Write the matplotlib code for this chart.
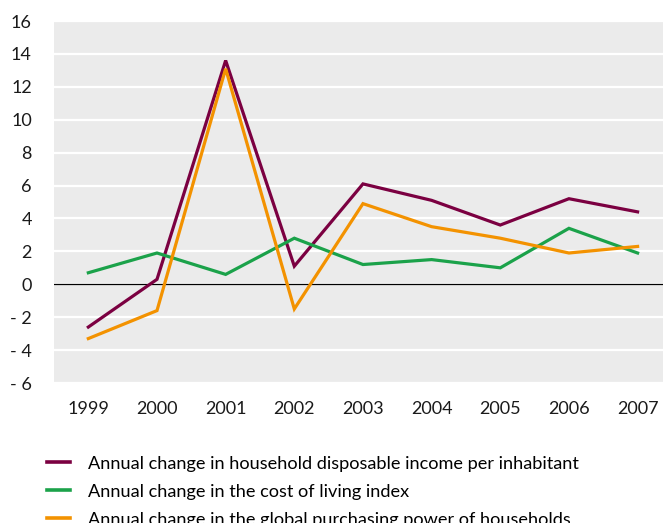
import matplotlib
matplotlib.use("Agg")
import matplotlib.pyplot as plt

years = [1999, 2000, 2001, 2002, 2003, 2004, 2005, 2006, 2007]
income = [-2.6, 0.3, 13.6, 1.1, 6.1, 5.1, 3.6, 5.2, 4.4]
cost_of_living = [0.7, 1.9, 0.6, 2.8, 1.2, 1.5, 1.0, 3.4, 1.9]
purchasing_power = [-3.3, -1.6, 13.1, -1.5, 4.9, 3.5, 2.8, 1.9, 2.3]

labels = [
    "Annual change in household disposable income per inhabitant",
    "Annual change in the cost of living index",
    "Annual change in the global purchasing power of households",
]
colors = ["#7b0041", "#1ba24a", "#f39200"]

y_ticks = list(range(-6, 17, 2))
y_labels = [("- %d" % abs(v)) if v < 0 else str(v) for v in y_ticks]

plt.rcParams['font.family'] = ['Lato', 'DejaVu Sans']

fig = plt.figure(figsize=(6.63, 5.23), dpi=100)
ax = fig.add_axes([54 / 663, 1 - 383 / 523, 1 - 54 / 663, 362 / 523])
ax.set_facecolor("#ebebeb")

for series, lab, c in zip([income, cost_of_living, purchasing_power], labels, colors):
    ax.plot(years, series, color=c, lw=2.3, label=lab, solid_joinstyle="miter")

ax.axhline(0, color="black", lw=0.9, zorder=1.5)
ax.set_ylim(-6, 16)
ax.set_xlim(1998.5, 2007.37)
ax.set_yticks(y_ticks)
ax.set_yticklabels(y_labels)
ax.set_xticks(years)
ax.set_xticklabels([str(y) for y in years])
ax.yaxis.grid(True, color="white", lw=1.6)
ax.set_axisbelow(True)
ax.tick_params(length=0, labelsize=13, colors="#1a1a1a")
ax.tick_params(axis="y", pad=16)
ax.tick_params(axis="x", pad=13)
for s in ax.spines.values():
    s.set_visible(False)

handles, labs = ax.get_legend_handles_labels()
leg = fig.legend(handles, labs, loc="upper left", bbox_to_anchor=(47 / 663, 0.129),
                 frameon=False, fontsize=13.1, handlelength=1.27, handletextpad=1.0,
                 labelspacing=0.66, borderpad=0, borderaxespad=0)
for line in leg.get_lines():
    line.set_linewidth(2.6)

fig.savefig("out.png", dpi=100)
